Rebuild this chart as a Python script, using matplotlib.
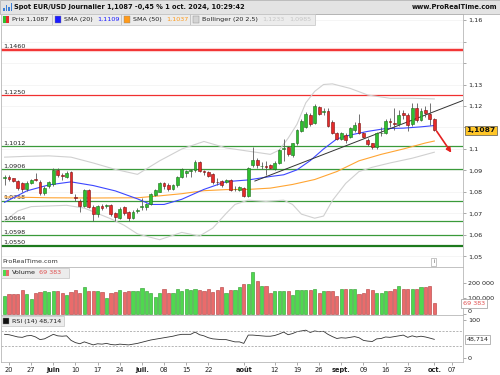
import matplotlib.pyplot as plt
from matplotlib.patches import Rectangle

plt.rcParams['font.family'] = ['DejaVu Sans']

# séances EUR/USD journalier, x = n° de séance (0 = 17 mai, 97 = 1 oct.)
opens = [
    1.0866, 1.0868, 1.0864, 1.0852, 1.0840, 1.0812, 1.0843, 1.0860, 1.0848, 1.0794,
    1.0826, 1.0836, 1.0902, 1.0880, 1.0872, 1.0891, 1.0778, 1.0758, 1.0735, 1.0809,
    1.0732, 1.0698, 1.0735, 1.0737, 1.0738, 1.0700, 1.0681, 1.0728, 1.0709, 1.0678,
    1.0712, 1.0728, 1.0732, 1.0744, 1.0786, 1.0802, 1.0840, 1.0834, 1.0812, 1.0831,
    1.0871, 1.0888, 1.0898, 1.0900, 1.0938, 1.0898, 1.0894, 1.0884, 1.0846, 1.0853,
    1.0845, 1.0856, 1.0813, 1.0809, 1.0817, 1.0780, 1.0926, 1.0948, 1.0920, 1.0920,
    1.0924, 1.0906, 1.0937, 1.0999, 1.1008, 1.0973, 1.1026, 1.1085, 1.1104, 1.1158,
    1.1120, 1.1194, 1.1170, 1.1178, 1.1127, 1.1076, 1.1045, 1.1066, 1.1057, 1.1090,
    1.1119, 1.1073, 1.1042, 1.1026, 1.1011, 1.1073, 1.1076, 1.1128, 1.1120, 1.1115,
    1.1166, 1.1160, 1.1115, 1.1192, 1.1135, 1.1181, 1.1161, 1.1138]
highs = [
    1.0879, 1.0878, 1.0867, 1.0857, 1.0845, 1.0850, 1.0862, 1.0887, 1.0856, 1.0826,
    1.0850, 1.0910, 1.0912, 1.0889, 1.0897, 1.0897, 1.0790, 1.0768, 1.0813, 1.0815,
    1.0740, 1.0740, 1.0742, 1.0745, 1.0742, 1.0705, 1.0730, 1.0733, 1.0713, 1.0715,
    1.0725, 1.0771, 1.0750, 1.0795, 1.0815, 1.0845, 1.0846, 1.0840, 1.0838, 1.0875,
    1.0910, 1.0902, 1.0906, 1.0948, 1.0945, 1.0900, 1.0899, 1.0888, 1.0864, 1.0858,
    1.0862, 1.0862, 1.0828, 1.0828, 1.0825, 1.0918, 1.1009, 1.0960, 1.0940, 1.0944,
    1.0932, 1.0942, 1.1000, 1.1045, 1.1015, 1.1030, 1.1092, 1.1140, 1.1170, 1.1168,
    1.1210, 1.1202, 1.1190, 1.1190, 1.1133, 1.1080, 1.1080, 1.1075, 1.1100, 1.1125,
    1.1161, 1.1080, 1.1050, 1.1030, 1.1078, 1.1100, 1.1138, 1.1143, 1.1190, 1.1180,
    1.1180, 1.1168, 1.1214, 1.1213, 1.1190, 1.1200, 1.1213, 1.1142]
lows = [
    1.0832, 1.0850, 1.0845, 1.0810, 1.0800, 1.0805, 1.0838, 1.0850, 1.0786, 1.0785,
    1.0818, 1.0830, 1.0870, 1.0856, 1.0865, 1.0795, 1.0760, 1.0708, 1.0730, 1.0726,
    1.0664, 1.0685, 1.0716, 1.0725, 1.0690, 1.0667, 1.0675, 1.0695, 1.0663, 1.0672,
    1.0703, 1.0716, 1.0718, 1.0740, 1.0780, 1.0798, 1.0815, 1.0803, 1.0808, 1.0825,
    1.0866, 1.0870, 1.0872, 1.0895, 1.0893, 1.0880, 1.0870, 1.0838, 1.0833, 1.0825,
    1.0840, 1.0803, 1.0805, 1.0803, 1.0775, 1.0775, 1.0915, 1.0910, 1.0905, 1.0880,
    1.0905, 1.0900, 1.0930, 1.0945, 1.0968, 1.0965, 1.1020, 1.1080, 1.1098, 1.1108,
    1.1115, 1.1158, 1.1160, 1.1100, 1.1070, 1.1040, 1.1040, 1.1030, 1.1050, 1.1080,
    1.1068, 1.1050, 1.1015, 1.1000, 1.1002, 1.1060, 1.1070, 1.1100, 1.1090, 1.1105,
    1.1140, 1.1082, 1.1105, 1.1125, 1.1130, 1.1150, 1.1112, 1.1085]
closes = [
    1.0868, 1.0860, 1.0849, 1.0817, 1.0812, 1.0843, 1.0858, 1.0855, 1.0794, 1.0820,
    1.0845, 1.0902, 1.0879, 1.0876, 1.0890, 1.0797, 1.0772, 1.0735, 1.0809, 1.0732,
    1.0698, 1.0735, 1.0725, 1.0740, 1.0697, 1.0685, 1.0723, 1.0701, 1.0678, 1.0709,
    1.0718, 1.0734, 1.0744, 1.0791, 1.0809, 1.0840, 1.0828, 1.0812, 1.0831, 1.0871,
    1.0905, 1.0898, 1.0900, 1.0941, 1.0898, 1.0892, 1.0876, 1.0845, 1.0845, 1.0833,
    1.0856, 1.0809, 1.0815, 1.0822, 1.0780, 1.0910, 1.0948, 1.0926, 1.0922, 1.0917,
    1.0913, 1.0937, 1.0995, 1.1004, 1.0975, 1.1026, 1.1088, 1.1132, 1.1163, 1.1115,
    1.1200, 1.1163, 1.1177, 1.1107, 1.1076, 1.1045, 1.1073, 1.1042, 1.1096, 1.1112,
    1.1073, 1.1057, 1.1023, 1.1011, 1.1073, 1.1076, 1.1132, 1.1126, 1.1117, 1.1160,
    1.1160, 1.1112, 1.1192, 1.1135, 1.1176, 1.1166, 1.1138, 1.1087]

volumes = [
    115000, 127000, 127000, 129000, 153000, 127000, 98000, 133000, 142000, 147000,
    142000, 151000, 151000, 138000, 122000, 142000, 153000, 138000, 173000, 151000,
    151000, 151000, 140000, 102000, 138000, 140000, 153000, 142000, 147000, 147000,
    151000, 167000, 149000, 133000, 107000, 133000, 160000, 136000, 136000, 160000,
    147000, 162000, 156000, 160000, 156000, 147000, 164000, 142000, 158000, 175000,
    138000, 158000, 153000, 175000, 191000, 191000, 271000, 213000, 182000, 182000,
    138000, 147000, 151000, 151000, 147000, 124000, 158000, 158000, 158000, 153000,
    162000, 138000, 151000, 151000, 147000, 113000, 164000, 160000, 160000, 164000,
    127000, 136000, 160000, 158000, 138000, 138000, 151000, 151000, 164000, 182000,
    160000, 164000, 160000, 160000, 171000, 171000, 182000, 69383]

rsi = [
    62, 61, 58, 55, 54, 58, 59, 55, 48, 50,
    56, 62, 58, 57, 58, 46, 40, 37, 42, 38,
    34, 37, 36, 38, 35, 34, 36, 35, 34, 36,
    38, 41, 44, 47, 49, 51, 53, 55, 57, 60,
    62, 62, 62, 68, 61, 58, 53, 50, 49, 48,
    48, 45, 42, 42, 38, 60, 60, 59, 58, 57,
    57, 59, 63, 68, 61, 64, 69, 71, 73, 67,
    71, 69, 70, 62, 56, 51, 53, 52, 54, 56,
    53, 46, 44, 43, 50, 51, 55, 54, 56, 58,
    60, 54, 58, 55, 57, 55, 52, 48.714]

# indicateurs
sma20_x = [0, 5, 10, 15, 20, 25, 30, 33, 36, 40, 45, 50, 55, 60, 63, 66, 69, 72, 75, 78,
           82, 86, 90, 94, 97]
sma20 = [1.0752, 1.0805, 1.0833, 1.0847, 1.0830, 1.0805, 1.0768, 1.0742, 1.0742, 1.0766,
         1.0812, 1.0848, 1.0856, 1.0872, 1.0880, 1.0903, 1.0946, 1.1000, 1.1047, 1.1065,
         1.1082, 1.1095, 1.1097, 1.1103, 1.1109]
sma50_x = [0, 10, 20, 30, 35, 40, 45, 50, 55, 60, 65, 70, 75, 80, 85, 90, 95, 97]
sma50 = [1.0777, 1.0773, 1.0772, 1.0773, 1.0782, 1.0792, 1.0806, 1.0811, 1.0812, 1.0818,
         1.0835, 1.0858, 1.0895, 1.0945, 1.0975, 1.1000, 1.1028, 1.1037]
bb_up_x = [0, 5, 10, 15, 20, 25, 30, 35, 40, 45, 50, 55, 60, 62, 64, 66, 68, 70, 72, 74,
           78, 82, 87, 92, 97]
bb_up = [1.0962, 1.0966, 1.0968, 1.0962, 1.0935, 1.0905, 1.0882, 1.0945, 1.1000, 1.1035,
         1.1005, 1.0990, 1.0975, 1.0995, 1.1050, 1.1115, 1.1215, 1.1268, 1.1300, 1.1303,
         1.1282, 1.1251, 1.1236, 1.1236, 1.1233]
bb_low_x = [0, 3, 6, 10, 14, 18, 21, 24, 27, 30, 35, 40, 44, 47, 50, 52, 55, 59, 63, 65,
            67, 70, 72, 74, 77, 80, 83, 87, 92, 97]
bb_low = [1.0665, 1.0712, 1.0732, 1.0735, 1.0738, 1.0725, 1.0700, 1.0675, 1.0645, 1.0605,
          1.0578, 1.0612, 1.0595, 1.0632, 1.0700, 1.0742, 1.0762, 1.0756, 1.0762, 1.0742,
          1.0697, 1.0678, 1.0688, 1.0760, 1.0840, 1.0895, 1.0915, 1.0935, 1.0957, 1.0985]

# niveaux tracés
levels = [1.1460, 1.1250, 1.1012, 1.0906, 1.0758, 1.0664, 1.0598, 1.0550]
level_colors = ['#f01818', '#f03030', '#3a9a3a', '#3a9a3a', '#3a9a3a', '#3a9a3a', '#3a9a3a', '#1d7a1d']
level_widths = [1.2, 0.9, 0.9, 0.9, 0.9, 0.9, 0.9, 1.6]

trend_x = [56.5, 103.5]
trend_y = [1.0851, 1.1226]
arrow_x = [97.2, 101.2]
arrow_y = [1.1093, 1.0972]

tick_pos = [1, 6, 11, 16, 21, 26, 31, 36, 41, 46, 54, 61, 66, 71, 76, 81, 86, 91, 97, 101]
tick_labels = ['20', '27', 'juin', '10', '17', '24', 'juil.', '08', '15', '22', 'août',
               '12', '19', '26', 'sept.', '09', '16', '23', 'oct.', '07']
months = ['juin', 'juil.', 'août', 'sept.', 'oct.']

price_ticks = [1.05, 1.06, 1.07, 1.08, 1.09, 1.10, 1.11, 1.12, 1.13, 1.14, 1.15, 1.16]
price_tick_labels = ['1,05', '1,06', '1,07', '1,08', '1,09', '1,1', '', '1,12', '1,13', '', '', '1,16']


def fx(px):
    return px / 500


def fy(py):
    return 1 - py / 375


def num(v):
    return f'{v:.4f}'.replace('.', ',')


FS = 4.6
GRID = '#b8b8b8'

fig = plt.figure(figsize=(5, 3.75), dpi=100)
ax = fig.add_axes([fx(1), fy(267), fx(462), 253 / 375])
axv = fig.add_axes([fx(1), fy(315), fx(462), 48 / 375], sharex=ax)
axr = fig.add_axes([fx(1), fy(362), fx(462), 47 / 375], sharex=ax)

for a in (ax, axv, axr):
    for s in a.spines.values():
        s.set_color(GRID)
        s.set_linewidth(0.6)
    a.yaxis.tick_right()
    a.tick_params(axis='y', length=2, width=0.5, pad=1.5, labelsize=FS,
                  colors='#888888', labelcolor='#222222')
    a.tick_params(axis='x', bottom=False, labelbottom=False)

idx = list(range(len(closes)))
up = [c >= o for o, c in zip(opens, closes)]

# --- prix ---
ax.set_xlim(-0.81, 103.48)
ax.set_ylim(1.0451, 1.1628)
ax.set_yticks(price_ticks)
ax.set_yticklabels(price_tick_labels)
ax.grid(axis='y', color='#f2f2f2', lw=0.5)
ax.set_axisbelow(True)

ax.axhline(levels[0], color='#f01818', lw=3, alpha=0.2, zorder=2)
ytr = ax.get_yaxis_transform()
for lv, col, lw in zip(levels, level_colors, level_widths):
    ax.axhline(lv, color=col, lw=lw, zorder=2)
    ax.text(0.004, lv + 0.0004, num(lv), transform=ytr, fontsize=FS,
            va='bottom', ha='left', color='#222222')

ax.plot(bb_up_x, bb_up, color='#d0d0d0', lw=0.8, zorder=2)
ax.plot(bb_low_x, bb_low, color='#d0d0d0', lw=0.8, zorder=2)
ax.plot(sma50_x, sma50, color='#ffa533', lw=0.8, zorder=3)
ax.plot(sma20_x, sma20, color='#3c46ff', lw=0.8, zorder=3)
ax.plot(trend_x, trend_y, color='#333333', lw=0.7, zorder=3)

body_bot = [min(o, c) for o, c in zip(opens, closes)]
body_h = [max(abs(c - o), 0.00012) for o, c in zip(opens, closes)]
ax.vlines(idx, lows, highs, color='#5a5a5a', lw=0.6, zorder=4)
ax.bar(idx, body_h, bottom=body_bot, width=0.64,
       color=['#2fbf2f' if u else '#e62a2a' for u in up],
       edgecolor=['#1d6e1d' if u else '#7a1010' for u in up], lw=0.4, zorder=5)

ax.annotate('', xy=(arrow_x[1], arrow_y[1]), xytext=(arrow_x[0], arrow_y[0]),
            arrowprops=dict(arrowstyle='-|>', color='#e42020', lw=1.2,
                            mutation_scale=7), zorder=6)

ax.text(1.0075, closes[-1], num(closes[-1]), transform=ytr, fontsize=5.4,
        fontweight='bold', va='center', ha='left', color='#111111',
        bbox=dict(boxstyle='square,pad=0.22', fc='#ffc628', ec='#555555', lw=0.5))

ax.text(0.002, 0.012, 'ProRealTime.com', transform=ax.transAxes, fontsize=FS,
        color='#333333', va='bottom', ha='left')
ax.text(0.937, 0.02, 'i', transform=ax.transAxes, fontsize=3.8, color='#555555',
        va='center', ha='center',
        bbox=dict(boxstyle='square,pad=0.35', fc='white', ec='#999999', lw=0.4))

# --- volume ---
axv.bar(idx, volumes, width=0.72,
        color=['#4fd84f' if u else '#ea6b6b' for u in up],
        edgecolor=['#2a9a2a' if u else '#b03a3a' for u in up], lw=0.4)
axv.set_ylim(-6450, 303200)
axv.set_yticks([0, 100000, 200000])
axv.set_yticklabels(['0', '100 000', '200 000'])
axv.get_yticklabels()[0].set_verticalalignment('bottom')
axv.text(1.0, volumes[-1], f'{volumes[-1]:,}'.replace(',', ' '),
         transform=axv.get_yaxis_transform(), fontsize=FS, color='#e05050',
         va='center', ha='left',
         bbox=dict(boxstyle='square,pad=0.3', fc='white', ec='#999999', lw=0.5))

# --- RSI ---
axr.plot(idx, rsi, color='#333333', lw=0.6)
for lv in (70, 30):
    axr.axhline(lv, color='#9a9a9a', lw=0.5, ls=(0, (3, 2)))
axr.set_ylim(-11.4, 113.3)
axr.set_yticks([0, 100])
axr.set_yticklabels(['0', '100'])
axr.text(1.0075, rsi[-1], f'{rsi[-1]:.3f}'.replace('.', ','),
         transform=axr.get_yaxis_transform(), fontsize=FS, color='#222222',
         va='center', ha='left',
         bbox=dict(boxstyle='square,pad=0.3', fc='white', ec='#999999', lw=0.5))

axr.tick_params(axis='x', bottom=True, labelbottom=True, length=2, width=0.5,
                pad=1.5, labelsize=4.8, colors='#888888', labelcolor='#222222')
axr.set_xticks(tick_pos)
axr.set_xticklabels(tick_labels)
for t in axr.get_xticklabels():
    if t.get_text() in months:
        t.set_fontweight('bold')

# --- en-tête ---
fig.add_artist(Rectangle((0, fy(13.5)), 1, 13.5 / 375, transform=fig.transFigure,
                         fc='#e3e3e3', ec='#a8a8a8', lw=0.5))
for bx, bh in zip([3, 5.5, 8, 10.5], [3, 6, 4, 8]):
    fig.add_artist(Rectangle((fx(bx), fy(11)), fx(1.6), bh / 375,
                             transform=fig.transFigure, fc='#3d7fd6', ec='none'))
fig.text(fx(14), fy(7), 'Spot EUR/USD Journalier 1,1087 -0,45 % 1 oct. 2024, 10:29:42',
         fontsize=4.8, fontweight='bold', va='center', ha='left', color='#111111')
fig.text(fx(497), fy(7), 'www.ProRealTime.com', fontsize=4.8, fontweight='bold',
         va='center', ha='right', color='#111111')

# --- légendes ---
fig.add_artist(Rectangle((fx(1), fy(24.5)), fx(314), 10.5 / 375, transform=fig.transFigure,
                         fc='#ececec', ec='#c4c4c4', lw=0.5))
for sx in [52, 121, 190]:
    fig.add_artist(Rectangle((fx(sx), fy(24.5)), fx(0.6), 10.5 / 375,
                             transform=fig.transFigure, fc='#c4c4c4', ec='none'))


def square(x, y, c):
    fig.add_artist(Rectangle((fx(x), fy(y + 3)), fx(6), 6 / 375, transform=fig.transFigure,
                             fc=c, ec='#888888', lw=0.3))


def label(x, y, s, c='#222222'):
    fig.text(fx(x), fy(y), s, fontsize=FS, va='center', ha='left', color=c)


ly = 19.5
fig.add_artist(Rectangle((fx(3), fy(ly + 3)), fx(3), 6 / 375, transform=fig.transFigure,
                         fc='#2fbf2f', ec='none'))
fig.add_artist(Rectangle((fx(6), fy(ly + 3)), fx(3), 6 / 375, transform=fig.transFigure,
                         fc='#e62a2a', ec='none'))
label(12, ly, 'Prix ' + num(closes[-1]))
square(55, ly, '#1a1aff')
label(64, ly, 'SMA (20)')
label(97, ly, num(sma20[-1]), '#1a1aff')
square(124, ly, '#ff9a1a')
label(133, ly, 'SMA (50)')
label(166, ly, num(sma50[-1]), '#ff9a1a')
square(193, ly, '#d4d4d4')
label(202, ly, 'Bollinger (20 2,5)')
label(262, ly, num(bb_up[-1]), '#c6c6c6')
label(289, ly, num(bb_low[-1]), '#c6c6c6')

fig.add_artist(Rectangle((fx(1), fy(278)), fx(68), 10.5 / 375, transform=fig.transFigure,
                         fc='#ececec', ec='#c4c4c4', lw=0.5))
fig.add_artist(Rectangle((fx(3), fy(276)), fx(3), 6 / 375, transform=fig.transFigure,
                         fc='#4fd84f', ec='none'))
fig.add_artist(Rectangle((fx(6), fy(276)), fx(3), 6 / 375, transform=fig.transFigure,
                         fc='#ea6b6b', ec='none'))
label(12, 273, 'Volume')
label(39, 273, f'{volumes[-1]:,}'.replace(',', ' '), '#e05050')

fig.add_artist(Rectangle((fx(1), fy(326)), fx(63), 10.5 / 375, transform=fig.transFigure,
                         fc='#ececec', ec='#c4c4c4', lw=0.5))
square(3, 321, '#111111')
label(12, 321, 'RSI (14) ' + f'{rsi[-1]:.3f}'.replace('.', ','))

fig.savefig('out.png', dpi=100)
